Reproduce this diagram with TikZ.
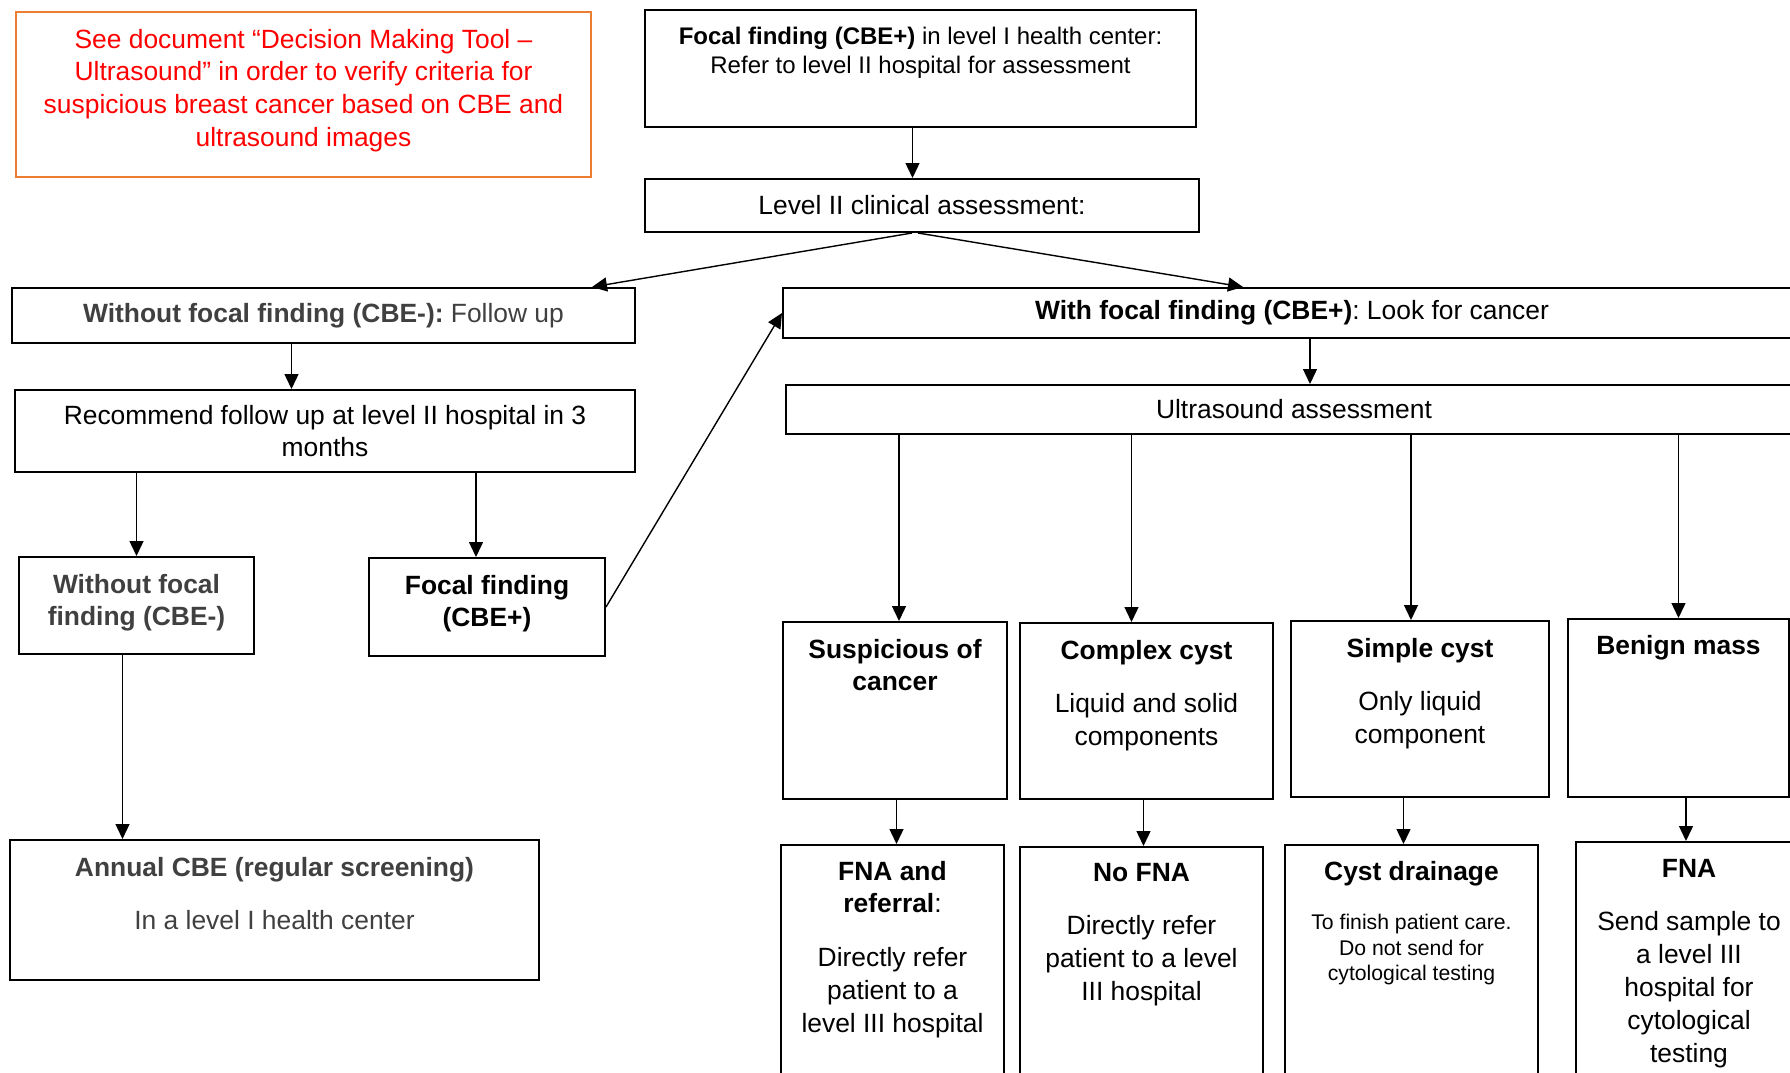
\documentclass[tikz,border=0pt]{standalone}
\usepackage{fontspec}
\setmainfont{Liberation Sans}
\frenchspacing
\usetikzlibrary{arrows.meta,positioning}

\definecolor{notered}{HTML}{FF0000}
\definecolor{noteorange}{HTML}{ED7D31}
\definecolor{greytext}{HTML}{404040}

% box contents: top pad, width, height, text
\newcommand{\topbox}[4]{\parbox[c][#3][t]{#2}{\centering\vspace*{#1}#4\par}}
\newcommand{\midbox}[3]{\parbox[c][#2][c]{#1}{\centering #3\par}}

\begin{document}
\begin{tikzpicture}[x=0.5pt,y=-0.5pt,->,>={Triangle[length=7.5pt,width=7pt]},
    line width=0.7pt,font=\fontsize{13.2}{16.4}\selectfont,
    box/.style={draw,line width=1pt,inner sep=0pt,anchor=north west}]

\useasboundingbox (0,0) rectangle (1790,1072);
\clip (0,0) rectangle (1790,1072);

\node[box,draw=noteorange,text=notered] (note) at (15,11)
  {\topbox{8.5pt}{287.5pt}{82.5pt}{See document “Decision Making Tool –\\Ultrasound” in order to verify criteria for\\suspicious breast cancer based on CBE and\\ultrasound images}};
\node[box,font=\fontsize{12}{14.8}\selectfont] (top) at (644,9)
  {\topbox{8.5pt}{275.5pt}{58.5pt}{\textbf{Focal finding (CBE+)} in level I health center:\\Refer to level II hospital for assessment}};
\node[box,below=25pt of top.south west,anchor=north west] (level2)
  {\midbox{277pt}{26.5pt}{Level II clinical assessment:}};

\node[box,text=greytext] (nofocal) at (11,287)
  {\midbox{311.5pt}{27.5pt}{\textbf{Without focal finding (CBE-):} Follow up}};
\node[box] (withfocal) at (782,287)
  {\midbox{509pt}{25pt}{\textbf{With focal finding (CBE+)}: Look for cancer}};
\node[box] (recommend) at (14,389)
  {\midbox{310pt}{41pt}{Recommend follow up at level II hospital in 3\\months}};
\node[box] (ultrasound) at (785,384)
  {\midbox{508pt}{24.5pt}{Ultrasound assessment}};

\node[box,text=greytext] (nofocal2) at (18,556)
  {\topbox{8.5pt}{117.5pt}{48.5pt}{\textbf{Without focal\\finding (CBE-)}}};
\node[box] (focal2) at (368,557)
  {\topbox{8.5pt}{118pt}{49pt}{\textbf{Focal finding\\(CBE+)}}};
\node[box,text=greytext] (annual) at (9,839)
  {\topbox{8.5pt}{264.5pt}{70pt}{\textbf{Annual CBE (regular screening)}\\[10.5pt]In a level I health center}};

\node[box] (suspicious) at (782,621)
  {\topbox{8.5pt}{112pt}{88.5pt}{\textbf{Suspicious of\\cancer}}};
\node[box] (complex) at (1019,622)
  {\topbox{8.5pt}{126.5pt}{88pt}{\textbf{Complex cyst}\\[10.5pt]Liquid and solid\\components}};
\node[box] (simple) at (1290,620)
  {\topbox{8.5pt}{129pt}{88pt}{\textbf{Simple cyst}\\[10.5pt]Only liquid\\component}};
\node[box] (benign) at (1567,618)
  {\topbox{8pt}{110.5pt}{89pt}{\textbf{Benign mass}}};

\node[box] (fnaref) at (780,844)
  {\topbox{8pt}{111.5pt}{130pt}{\textbf{FNA and\\referral}:\\[10.5pt]Directly refer\\patient to a\\level III hospital}};
\node[box] (nofna) at (1019,846)
  {\topbox{8pt}{121.5pt}{130pt}{\textbf{No FNA}\\[10.5pt]Directly refer\\patient to a level\\III hospital}};
\node[box] (drainage) at (1284,844)
  {\topbox{8pt}{126.5pt}{130pt}{\textbf{Cyst drainage}\\[12pt]{\fontsize{10.6}{12.8}\selectfont To finish patient care.\\Do not send for\\cytological testing\par}}};
\node[box] (fna) at (1575,841)
  {\topbox{8.5pt}{113pt}{130pt}{\textbf{FNA}\\[10.5pt]Send sample to\\a level III\\hospital for\\cytological\\testing}};

\draw ([xshift=-4pt]top.south) -- ([xshift=-4pt]top.south |- level2.north);
\draw ([xshift=-5pt]level2.south) -- ([xshift=-22pt]nofocal.north east);
\draw ([xshift=-2pt]level2.south) -- ([xshift=230.5pt]withfocal.north west);
\draw ([xshift=-16pt]nofocal.south) -- ([xshift=-16pt]nofocal.south |- recommend.north);
\draw ([xshift=9pt]withfocal.south) -- ([xshift=9pt]withfocal.south |- ultrasound.north);
\draw (nofocal2.north |- recommend.south) -- (nofocal2.north);
\draw ([xshift=-5.5pt]focal2.north |- recommend.south) -- ([xshift=-5.5pt]focal2.north);
\draw (focal2.east) -- (withfocal.west);
\draw ([xshift=-7pt]nofocal2.south) -- ([xshift=-7pt]nofocal2.south |- annual.north);

\draw ([xshift=2pt]suspicious.north |- ultrasound.south) -- ([xshift=2pt]suspicious.north);
\draw ([xshift=-7.5pt]complex.north |- ultrasound.south) -- ([xshift=-7.5pt]complex.north);
\draw ([xshift=-4.5pt]simple.north |- ultrasound.south) -- ([xshift=-4.5pt]simple.north);
\draw (benign.north |- ultrasound.south) -- (benign.north);

\draw ([xshift=2pt]fnaref.north |- suspicious.south) -- ([xshift=2pt]fnaref.north);
\draw ([xshift=1pt]nofna.north |- complex.south) -- ([xshift=1pt]nofna.north);
\draw ([xshift=-4pt]drainage.north |- simple.south) -- ([xshift=-4pt]drainage.north);
\draw ([xshift=-1.5pt]fna.north |- benign.south) -- ([xshift=-1.5pt]fna.north);

\end{tikzpicture}
\end{document}
